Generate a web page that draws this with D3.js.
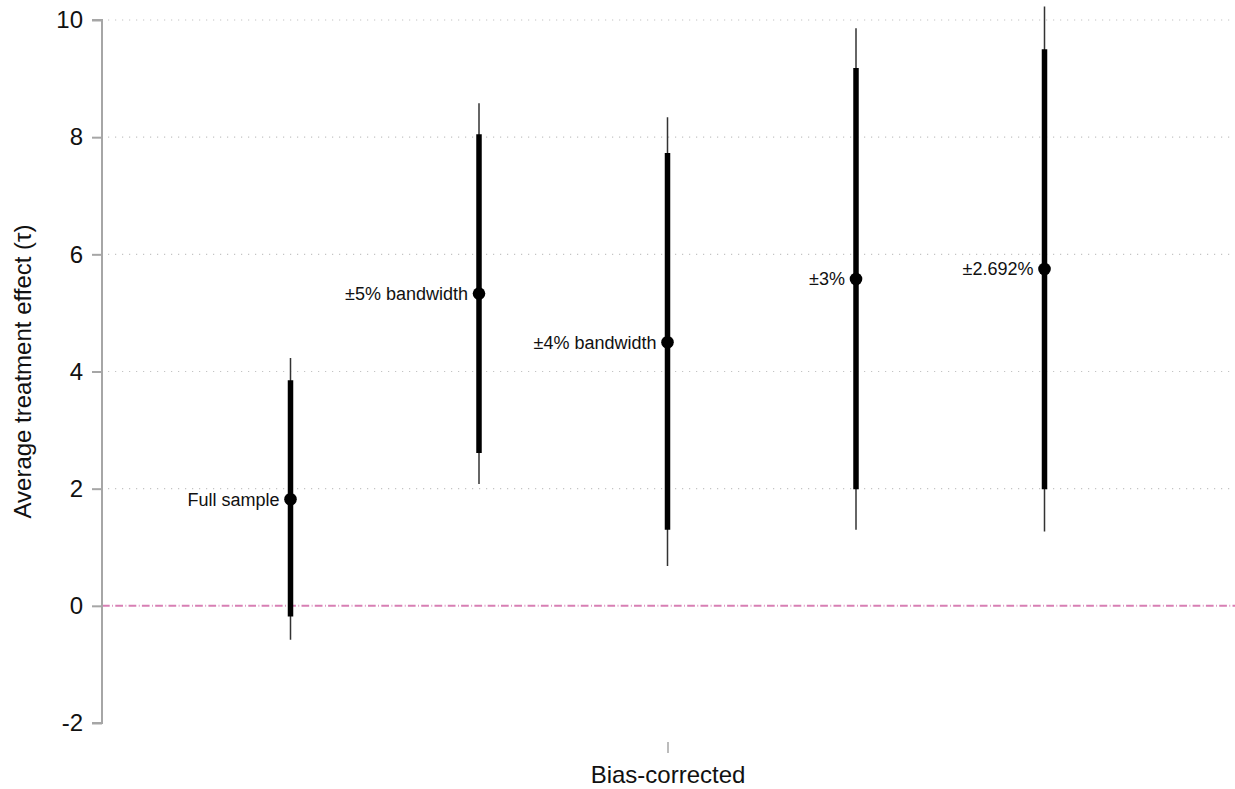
<!DOCTYPE html>
<html>
<head>
<meta charset="utf-8">
<script src="https://cdn.jsdelivr.net/npm/d3@7"></script>
<style>
  html, body { margin: 0; padding: 0; background: #fff; }
  svg { display: block; font-family: "Liberation Sans", Arial, sans-serif; }
</style>
</head>
<body>
<svg id="chart" width="1235" height="789"></svg>
<script>
// ---- data ----
const labels = ["Full sample", "\u00b15% bandwidth", "\u00b14% bandwidth", "\u00b13%", "\u00b12.692%"];
const positions = [1, 2, 3, 4, 5];
const estimates = [1.82, 5.33, 4.50, 5.58, 5.75];
const ci90Low  = [-0.18, 2.61, 1.30, 1.99, 1.99];
const ci90High = [3.85, 8.05, 7.73, 9.18, 9.50];
const ci95Low  = [-0.58, 2.08, 0.68, 1.30, 1.27];
const ci95High = [4.23, 8.58, 8.34, 9.86, 10.23];
const yTicks = [-2, 0, 2, 4, 6, 8, 10];
const gridTicks = [2, 4, 6, 8, 10];
const xTickValues = [3];
const xTickLabels = ["Bias-corrected"];
const yTitle = "Average treatment effect (\u03c4)";

const svg = d3.select("#chart");
const W = 1235, H = 789;
const m = { left: 102, right: 2, top: 20, bottom: 66 };
const FONT = "'Liberation Sans', Arial, sans-serif";

const x = d3.scaleLinear().domain([0, 6]).range([m.left, W - m.right]);
const y = d3.scaleLinear().domain([-2, 10]).range([H - m.bottom, m.top]);

// gridlines
svg.append("g").selectAll("line").data(gridTicks).join("line")
  .attr("x1", m.left + 6).attr("x2", W)
  .attr("y1", d => y(d)).attr("y2", d => y(d))
  .attr("stroke", "#c4c4c4").attr("stroke-width", 1.2)
  .attr("stroke-dasharray", "1.2,5.8");

// zero reference line
svg.append("line")
  .attr("x1", m.left).attr("x2", W)
  .attr("y1", y(0)).attr("y2", y(0))
  .attr("stroke", "#d77fb4").attr("stroke-width", 2)
  .attr("stroke-dasharray", "7.7,2.5,0.8,2.3");

// y axis
const yAxis = d3.axisLeft(y).tickValues(yTicks).tickSize(10).tickPadding(9)
  .tickFormat(d => String(d));
const gy = svg.append("g").attr("transform", `translate(${m.left},0)`).call(yAxis);
gy.select(".domain").attr("stroke", "#a6a6a6").attr("stroke-width", 2)
  .attr("d", `M-10,${y(10)}H0V${y(-2)}H-10`);
gy.selectAll(".tick line").attr("stroke", "#a6a6a6").attr("stroke-width", 2);
gy.selectAll(".tick text").attr("font-size", 24).attr("fill", "#111")
  .attr("font-family", FONT);

// x axis (tick only, no domain line)
const xAxis = d3.axisBottom(x).tickValues(xTickValues).tickSize(11).tickPadding(13)
  .tickFormat((d, i) => xTickLabels[i]);
const gx = svg.append("g").attr("transform", `translate(0,${y(-2) + 19})`).call(xAxis);
gx.select(".domain").remove();
gx.selectAll(".tick line").attr("stroke", "#a6a6a6").attr("stroke-width", 1.5);
gx.selectAll(".tick text").attr("font-size", 24).attr("fill", "#111")
  .attr("font-family", FONT);

// y title
svg.append("text")
  .attr("transform", `translate(31,${(y(10) + y(-2)) / 2}) rotate(-90)`)
  .attr("text-anchor", "middle")
  .attr("font-size", 24).attr("fill", "#111")
  .text(yTitle);

const idx = d3.range(labels.length);

// thin (outer) intervals
svg.append("g").selectAll("line").data(idx).join("line")
  .attr("x1", i => x(positions[i])).attr("x2", i => x(positions[i]))
  .attr("y1", i => y(ci95Low[i])).attr("y2", i => y(ci95High[i]))
  .attr("stroke", "#333").attr("stroke-width", 1.5);

// thick (inner) intervals
svg.append("g").selectAll("line").data(idx).join("line")
  .attr("x1", i => x(positions[i])).attr("x2", i => x(positions[i]))
  .attr("y1", i => y(ci90Low[i])).attr("y2", i => y(ci90High[i]))
  .attr("stroke", "#000").attr("stroke-width", 5.5);

// points
svg.append("g").selectAll("circle").data(idx).join("circle")
  .attr("cx", i => x(positions[i])).attr("cy", i => y(estimates[i]))
  .attr("r", 6.3).attr("fill", "#000");

// labels
svg.append("g").selectAll("text").data(idx).join("text")
  .attr("x", i => x(positions[i]) - 11)
  .attr("y", i => y(estimates[i]))
  .attr("dy", "0.35em")
  .attr("text-anchor", "end")
  .attr("font-size", 18).attr("fill", "#111")
  .text(i => labels[i]);
</script>
</body>
</html>
